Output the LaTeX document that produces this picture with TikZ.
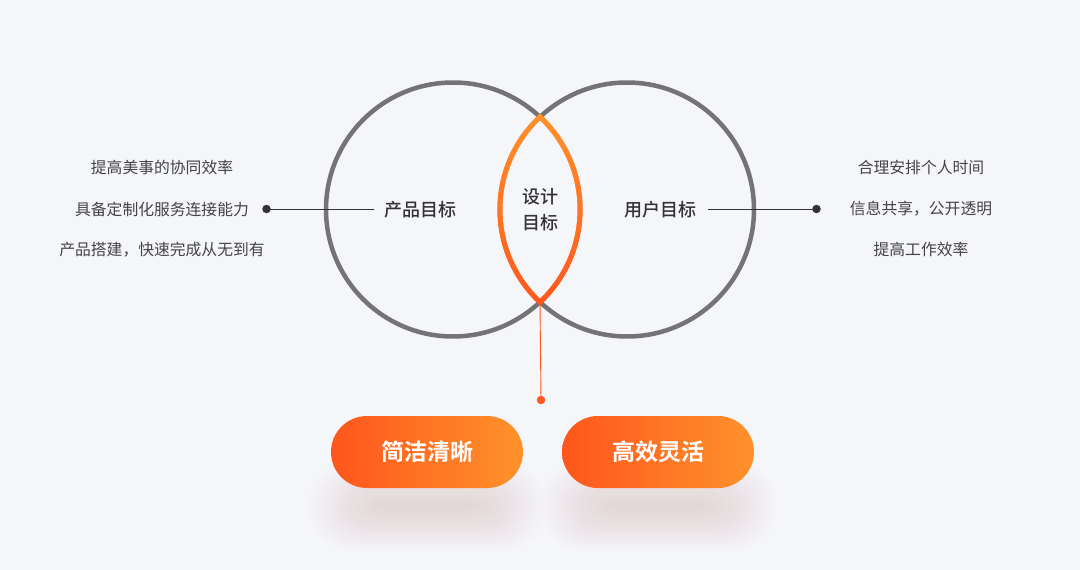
\documentclass[tikz,border=0pt]{standalone}
\usepackage{fontspec}
\newfontfamily\cjk[BoldFont={Noto Sans CJK SC Medium}]{Noto Sans CJK SC}
\newfontfamily\cjkbold{Noto Sans CJK SC Bold}
\usetikzlibrary{calc}
\definecolor{bg}{HTML}{F5F6FA}
\definecolor{ring}{HTML}{747477}
\definecolor{txt}{HTML}{333333}
\definecolor{sub}{HTML}{444444}
\definecolor{oLight}{HTML}{FF922B}
\definecolor{oDark}{HTML}{FF561D}
\definecolor{glow}{HTML}{D6BEB8}
\tikzset{
  ringline/.style={draw=ring, line width=4.5pt},
  label/.style={font=\cjk\bfseries\fontsize{18}{22}\selectfont, text=txt, inner sep=0pt},
  item/.style={font=\cjk\fontsize{15.8}{18}\selectfont, text=sub, inner sep=0pt},
  pill/.style={rounded corners=36pt, minimum width=192pt, minimum height=72pt,
    left color=oDark, right color=oLight, text=white, inner sep=0pt,
    font=\cjkbold\fontsize{23}{26}\selectfont},
  conn/.style={draw=txt, line width=0.9pt},
  dotm/.style={circle, fill=txt, minimum size=8.5pt, inner sep=0pt},
  odot/.style={circle, fill=oDark, minimum size=8.5pt, inner sep=0pt},
}
\begin{document}
\begin{tikzpicture}[x=1pt,y=-1pt]
\fill[bg] (0,0) rectangle (1080,570);
\useasboundingbox (0,0) rectangle (1080,570);

% glow shadows under pills
\foreach \cx in {427,658}{
  \foreach \i in {0,...,19}{
    \fill[glow, opacity=0.028, rounded corners={(42-\i*1.5)*1pt}]
      ({\cx-118+\i*3.6},{462+\i*2.2}) rectangle ({\cx+118-\i*3.6},{550-\i*2.2});
  }
}

% circles
\coordinate (cl) at (453,209.5);
\coordinate (cr) at (627,209.5);
\draw[ringline] (cl) circle (127pt);
\draw[ringline] (cr) circle (127pt);
\coordinate (itop) at (540,117);
\coordinate (ibot) at (540,302);

% lens with gradient stroke
\begin{scope}
  \clip (cl) circle (129.7pt);
  \clip (cr) circle (129.7pt);
  \shade[top color=oLight, bottom color=oDark] (480,110) rectangle (600,310);
\end{scope}
\begin{scope}
  \clip (cl) circle (124.4pt);
  \fill[bg] (cr) circle (124.4pt);
\end{scope}

% labels
\node[label] (prod) at (420,209.5) {产品目标};
\node[label] (user) at (660,209.5) {用户目标};
\node[label, align=center] (design) at (540,210) {设计\\[4pt]目标};

% left list
\node[item] (l1) at (162,167) {提高美事的协同效率};
\node[item] (l2) at (162,209) {具备定制化服务连接能力};
\node[item] (l3) at (162,249.5) {产品搭建，快速完成从无到有};
% right list
\node[item] (r1) at (921,167) {合理安排个人时间};
\node[item] (r2) at (921,209) {信息共享，公开透明};
\node[item] (r3) at (921,249.5) {提高工作效率};

% connectors
\node[dotm] (ldot) at (266.5,209) {};
\coordinate (lend) at (374,209);
\draw[conn] (ldot.center) -- (lend);
\node[dotm] (rdot) at (816.5,209) {};
\coordinate (rstart) at (708,209);
\draw[conn] (rstart) -- (rdot.center);

\node[odot] (bdot) at (541,400) {};
\draw[draw=oDark, line width=0.9pt] (ibot) -- (bdot.center);

% pills
\node[pill] (p1) at (427,452) {简洁清晰};
\node[pill] (p2) at (658,452) {高效灵活};
\end{tikzpicture}
\end{document}
